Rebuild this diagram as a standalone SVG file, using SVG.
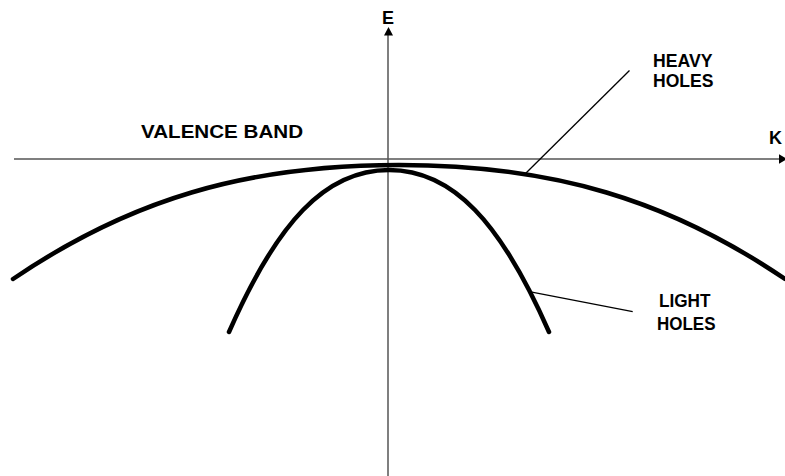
<svg xmlns="http://www.w3.org/2000/svg" width="785" height="476" viewBox="0 0 785 476">
<style>
.axis{stroke:#555;stroke-width:1.5;fill:none}
.band{stroke:#000;stroke-width:4.5;fill:none;stroke-linecap:round}
.lead{stroke:#000;stroke-width:1.3;fill:none}
.lbl{font-family:"Liberation Sans",Arial,sans-serif;font-weight:bold;font-size:18px;fill:#000}
</style>
<rect width="785" height="476" fill="#fff"/>
<g id="connectors">
<line class="axis" x1="388" y1="476" x2="388" y2="34"/>
<polygon points="388.5,27 384,35.5 393,35.5" fill="#000"/>
<line class="axis" x1="14" y1="159" x2="780" y2="159"/>
<polygon points="787,159 779,154.3 779,163.7" fill="#000"/>
<line class="lead" x1="524" y1="175" x2="629.5" y2="70.5"/>
<line class="lead" x1="529.3" y1="291.7" x2="632.7" y2="311.7"/>
</g>
<g id="heavy-holes-band">
<path class="band" d="M13,279 C128.8,200.3 244.6,165 399,165 C553.4,165 669.2,200.3 785,279"/>
</g>
<g id="light-holes-band">
<path class="band" d="M229,332 C277,222.6 325,170 389,170 C453,170 501,222.6 549,332"/>
</g>
<g id="label-E"><text class="lbl" x="388" y="24" text-anchor="middle">E</text></g>
<g id="label-K"><text class="lbl" x="775.5" y="144" text-anchor="middle">K</text></g>
<g id="label-valence"><text class="lbl" x="141" y="138" textLength="162" lengthAdjust="spacingAndGlyphs">VALENCE BAND</text></g>
<g id="label-heavy">
<text class="lbl" x="653" y="67" textLength="59.5" lengthAdjust="spacingAndGlyphs">HEAVY</text>
<text class="lbl" x="653" y="87" textLength="60.5" lengthAdjust="spacingAndGlyphs">HOLES</text>
</g>
<g id="label-light">
<text class="lbl" x="659" y="307" textLength="51.5" lengthAdjust="spacingAndGlyphs">LIGHT</text>
<text class="lbl" x="657" y="330" textLength="58.5" lengthAdjust="spacingAndGlyphs">HOLES</text>
</g>
</svg>
